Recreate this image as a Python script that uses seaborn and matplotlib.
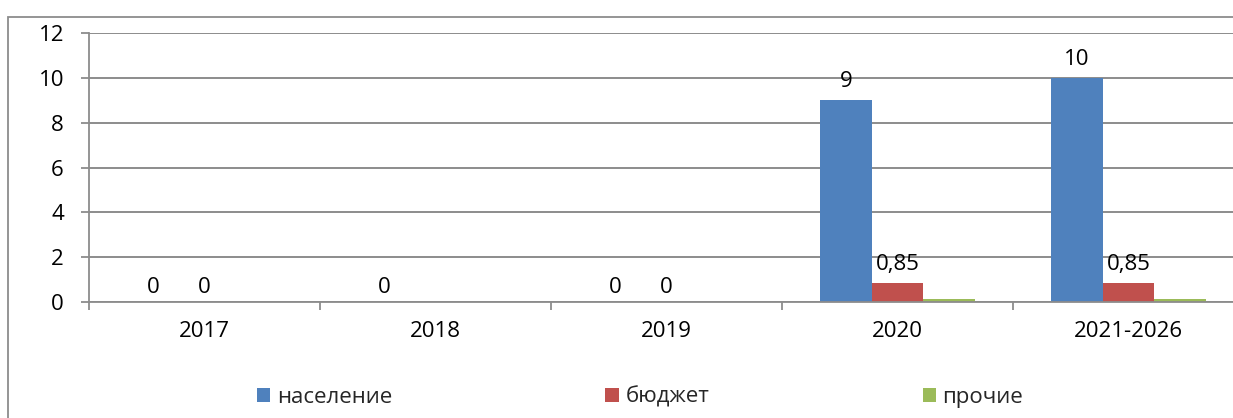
import numpy as np
import pandas as pd
import matplotlib
matplotlib.use("Agg")
import matplotlib.pyplot as plt
from matplotlib.patches import Patch, Rectangle
import seaborn as sns

categories = ["2017", "2018", "2019", "2020", "2021-2026"]
series_names = ["население", "бюджет", "прочие"]
naselenie = [0, 0, 0, 9, 10]
byudzhet = [0, np.nan, 0, 0.85, 0.85]
prochie = [np.nan, np.nan, np.nan, 0.15, 0.15]
labeled_series = ["население", "бюджет"]
colors = ["#4F81BD", "#C0504D", "#9BBB59"]
y_ticks = [0, 2, 4, 6, 8, 10, 12]

rows = []
for name, vals in zip(series_names, [naselenie, byudzhet, prochie]):
    for c, v in zip(categories, vals):
        rows.append({"cat": c, "series": name, "val": v})
df = pd.DataFrame(rows).dropna()

sns.set_theme(style="white")
plt.rcParams["font.family"] = ["Open Sans", "DejaVu Sans"]
FS = 16

W, H = 1233, 418
fig = plt.figure(figsize=(W / 100, H / 100), dpi=100)
ax = fig.add_axes([89 / W, 1 - 302 / H, (1244 - 89) / W, (302 - 33) / H])

sns.barplot(data=df, x="cat", y="val", hue="series", order=categories,
            hue_order=series_names, palette=colors, width=0.667,
            saturation=1, legend=False, ax=ax, linewidth=0, errorbar=None)

ax.set_ylim(0, 12)
ax.set_xlim(-0.5, len(categories) - 0.5)
ax.set_yticks(y_ticks)
ax.set_yticklabels([str(t) for t in y_ticks], fontsize=FS, color="black")
ax.yaxis.grid(True, color="#8c8c8c", lw=1.4)
ax.set_axisbelow(True)
ax.set_xlabel("")
ax.set_ylabel("")
ax.set_xticks(range(len(categories)))
ax.set_xticklabels(categories, fontsize=FS, color="black")
ax.tick_params(axis="x", length=0, pad=14)
ax.set_xticks(np.arange(-0.5, len(categories) + 0.5, 1), minor=True)
ax.tick_params(axis="x", which="minor", length=6, width=1.3, color="#8c8c8c", direction="out", bottom=True)
ax.tick_params(axis="y", length=6, width=1.3, color="#8c8c8c", direction="out", left=True, pad=12)
for s in ["top", "right"]:
    ax.spines[s].set_visible(False)
for s in ["left", "bottom"]:
    ax.spines[s].set_color("#8c8c8c")
    ax.spines[s].set_linewidth(1.3)

for name, cont in zip(series_names, ax.containers):
    if name not in labeled_series:
        continue
    for bar in cont:
        h = bar.get_height()
        if np.isnan(h):
            continue
        txt = f"{h:g}".replace(".", ",")
        off = 9 if h == 0 else 13
        ax.annotate(txt, (bar.get_x() + bar.get_width() / 2, h),
                    xytext=(0, off), textcoords="offset pixels",
                    ha="center", va="baseline", fontsize=FS, color="black")

handles = [Patch(facecolor=c, edgecolor="none") for c in colors]
fig.legend(handles, series_names, loc="center", bbox_to_anchor=(640 / W, 1 - 397 / H),
           ncol=3, frameon=False, fontsize=FS, handlelength=0.6, handleheight=0.6,
           handletextpad=0.3, columnspacing=9.6)

fig.add_artist(Rectangle((7.5 / W, -0.1), 1.2, 1 - 17 / H + 0.1, transform=fig.transFigure,
                         fill=False, edgecolor="#8c8c8c", lw=1.3))

fig.savefig("out.png", dpi=100)
